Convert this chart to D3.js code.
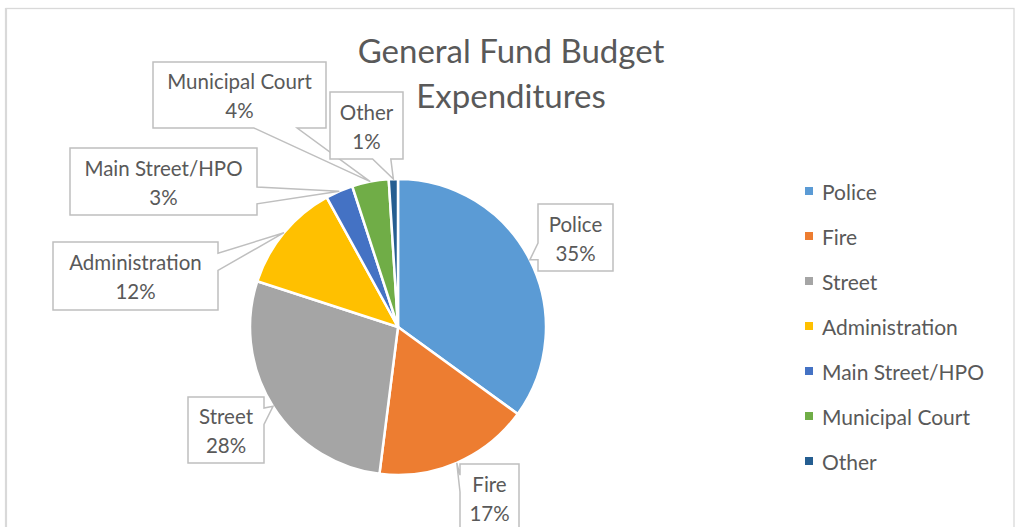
<!DOCTYPE html>
<html><head><meta charset="utf-8">
<script src="https://cdn.jsdelivr.net/npm/d3@7"></script>
<style>body{margin:0;background:#fff;overflow:hidden} text{font-family:Lato,'Open Sans',sans-serif;fill:#595959}</style>
</head><body><svg id="c" width="1016" height="527"></svg>
<script>
const categories = ["Police","Fire","Street","Administration","Main Street/HPO","Municipal Court","Other"];
const values = [35,17,28,12,3,4,1];
const pctLabels = ["35%","17%","28%","12%","3%","4%","1%"];
const colors = ["#5B9BD5","#ED7D31","#A5A5A5","#FFC000","#4472C4","#70AD47","#255E91"];
const titleLines = ["General Fund Budget","Expenditures"];

// callout box layout [x, y, w, h]
const boxLayout = [[538,204,75,67],[460,464,59,67],[188,397,76,66],[53,242,165,68],[70,148,187,67],[153,62,173,66],[330,92,73,67]];

const svg = d3.select("#c");
svg.append("rect").attr("x",6).attr("y",8.5).attr("width",1008).attr("height",600)
  .attr("fill","#fff").attr("stroke","#d9d9d9").attr("stroke-width",1.3);
svg.append("line").attr("x1",6).attr("x2",6).attr("y1",8).attr("y2",527).attr("stroke","#d9d9d9").attr("stroke-width",2.2);

const cx = 398, cy = 327, R = 148;
const pie = d3.pie().sort(null).value(d=>d);
const arcs = pie(values);
const arc = d3.arc().innerRadius(0).outerRadius(R);
const tipArc = d3.arc().innerRadius(R).outerRadius(R);
const g = svg.append("g").attr("transform",`translate(${cx},${cy})`);
g.selectAll("path").data(arcs).join("path")
  .attr("d",arc).attr("fill",(d,i)=>colors[i]).attr("stroke","#fff").attr("stroke-width",2.5).attr("stroke-linejoin","round");

// title
svg.append("text").attr("x",511).attr("y",63).attr("text-anchor","middle").style("font-size","33px")
  .selectAll("tspan").data(titleLines).join("tspan").attr("x",511).attr("dy",(d,i)=>i?45:0).text(d=>d);

function callout(b, tip){
  const [l,t,w,h] = b, r=l+w, bt=t+h, hc=l+w/2, vc=t+h/2;
  const dx = tip[0]-hc, dy = tip[1]-vc;
  const horiz = Math.abs(dx)*h > Math.abs(dy)*w;
  const p = [[l,t]];
  const x1 = l + w*(dx>0?7:2)/12, x2 = l + w*(dx>0?10:5)/12;
  const y1 = t + h*(dy>0?7:2)/12, y2 = t + h*(dy>0?10:5)/12;
  if(!horiz && dy<0){ p.push([x1,t],tip,[x2,t]); }
  p.push([r,t]);
  if(horiz && dx>0){ p.push([r,y1],tip,[r,y2]); }
  p.push([r,bt]);
  if(!horiz && dy>0){ p.push([x2,bt],tip,[x1,bt]); }
  p.push([l,bt]);
  if(horiz && dx<0){ p.push([l,y2],tip,[l,y1]); }
  return "M"+p.map(q=>q.join(",")).join("L")+"Z";
}

const lg = svg.append("g");
arcs.forEach((d,i)=>{
  const c = tipArc.centroid(d);
  const tip = [c[0]+cx, c[1]+cy];
  const b = boxLayout[i];
  lg.append("path").attr("d",callout(b,tip)).attr("fill","#fff").attr("stroke","#bfbfbf").attr("stroke-width",1.5).attr("stroke-linejoin","miter");
  const tx = b[0]+b[2]/2, ty = b[1]+b[3]/2;
  lg.append("text").attr("x",tx).attr("y",ty-14).attr("text-anchor","middle").attr("dominant-baseline","central").style("font-size","20.5px").text(categories[i]);
  lg.append("text").attr("x",tx).attr("y",ty+15).attr("text-anchor","middle").attr("dominant-baseline","central").style("font-size","20.5px").text(pctLabels[i]);
});

// legend
const leg = svg.append("g");
categories.forEach((c,i)=>{
  const y = 191 + i*45;
  leg.append("rect").attr("x",805).attr("y",y-4).attr("width",8).attr("height",8).attr("fill",colors[i]);
  leg.append("text").attr("x",822).attr("y",y).attr("dominant-baseline","central").style("font-size","21px").text(c);
});
</script></body></html>
